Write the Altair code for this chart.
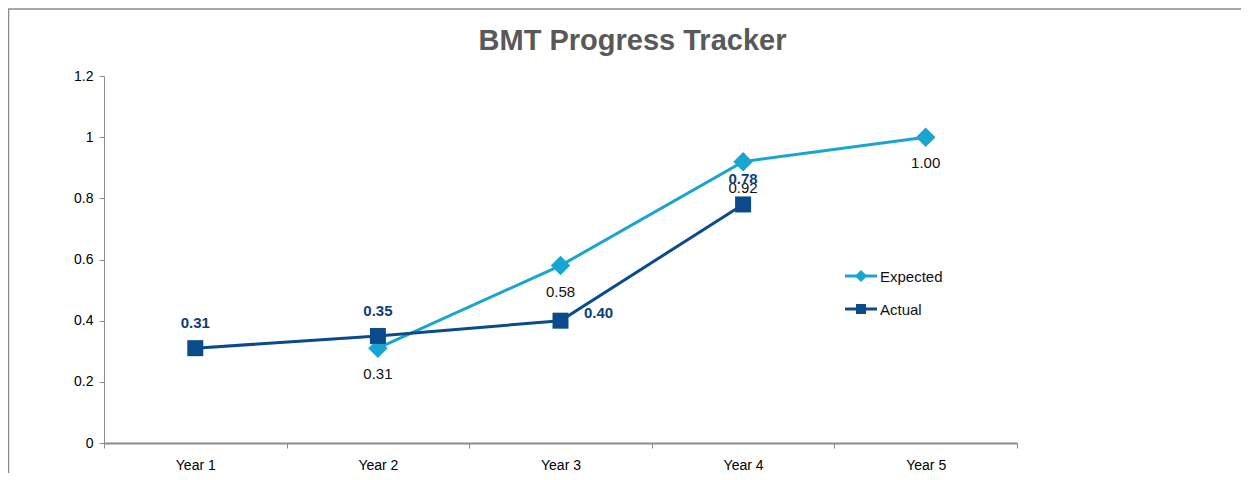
import altair as alt
import pandas as pd

years = ["Year 1", "Year 2", "Year 3", "Year 4", "Year 5"]
expected = [None, 0.31, 0.58, 0.92, 1.00]
actual = [0.31, 0.35, 0.40, 0.78, None]
series_names = ["Expected", "Actual"]
series_colors = ["#1AA5D1", "#0B4A8B"]
y_ticks = [0, 0.2, 0.4, 0.6, 0.8, 1.0, 1.2]

rows = []
for yr, e, a in zip(years, expected, actual):
    if e is not None:
        rows.append({"year": yr, "series": "Expected", "value": e})
    if a is not None:
        rows.append({"year": yr, "series": "Actual", "value": a})
df = pd.DataFrame(rows)

FONT = "Liberation Sans"
W, H = 913, 367

x_enc = alt.X(
    "year:N",
    sort=years,
    scale=alt.Scale(type="band", domain=years, paddingInner=0, paddingOuter=0),
    bandPosition=0.5,
    axis=alt.Axis(
        title=None, tickBand="extent", labelAngle=0, labelFontSize=14,
        labelColor="#000000", labelFont=FONT, tickSize=5, labelPadding=10,
        domainColor="#8C8C8C", tickColor="#8C8C8C", domainWidth=2, grid=False,
    ),
)
y_enc = alt.Y(
    "value:Q",
    scale=alt.Scale(domain=[0, 1.2], nice=False),
    axis=alt.Axis(
        title=None, values=y_ticks, format="~g", labelFontSize=14,
        labelColor="#000000", labelFont=FONT, tickSize=5, labelPadding=6,
        domainColor="#8C8C8C", tickColor="#8C8C8C", grid=False,
    ),
)

base = alt.Chart(df)
exp = base.transform_filter(alt.datum.series == "Expected")
act = base.transform_filter(alt.datum.series == "Actual")

exp_line = exp.mark_line(color=series_colors[0], strokeWidth=3).encode(x=x_enc, y=y_enc)
exp_pts = exp.mark_point(shape="diamond", filled=True, size=380, opacity=1,
                         color=series_colors[0]).encode(x=x_enc, y=y_enc)
act_line = act.mark_line(color=series_colors[1], strokeWidth=3).encode(x=x_enc, y=y_enc)
act_pts = act.mark_point(shape="square", filled=True, size=256, opacity=1,
                         color=series_colors[1]).encode(x=x_enc, y=y_enc)

exp_lbl = exp.mark_text(dy=26, fontSize=15, font=FONT, color="#111111").encode(
    x=x_enc, y=y_enc, text=alt.Text("value:Q", format=".2f"))
act_lbl = act.transform_filter(alt.datum.year != "Year 3").mark_text(
    dy=-25, fontSize=15, font=FONT, fontWeight="bold", color="#0B3F7C").encode(
    x=x_enc, y=y_enc, text=alt.Text("value:Q", format=".2f"))
act_lbl3 = act.transform_filter(alt.datum.year == "Year 3").mark_text(
    dx=38, dy=-8, fontSize=15, font=FONT, fontWeight="bold", color="#0B3F7C").encode(
    x=x_enc, y=y_enc, text=alt.Text("value:Q", format=".2f"))

# manual legend
one = alt.Chart(pd.DataFrame({"k": [0]}))
legend_layers = []
leg_y = [200, 233]
leg_shapes = ["diamond", "square"]
leg_sizes = [150, 100]
for name, col, yy, shp, sz in zip(series_names, series_colors, leg_y, leg_shapes, leg_sizes):
    legend_layers.append(one.mark_rule(color=col, strokeWidth=3).encode(
        x=alt.value(741), x2=alt.value(773), y=alt.value(yy)))
    legend_layers.append(one.mark_point(shape=shp, filled=True, size=sz, opacity=1, color=col).encode(
        x=alt.value(757), y=alt.value(yy)))
    legend_layers.append(one.mark_text(align="left", baseline="middle", fontSize=15, font=FONT,
                                       color="#111111", text=name).encode(
        x=alt.value(776), y=alt.value(yy + 1)))

frame = one.mark_rect(fill=None, stroke="#8C8C8C", strokeWidth=1.5).encode(
    x=alt.value(-95.5), y=alt.value(-67), x2=alt.value(W + 250), y2=alt.value(H + 60))

chart = alt.layer(
    frame, exp_line, act_line, exp_pts, act_pts, exp_lbl, act_lbl, act_lbl3, *legend_layers
).properties(
    width=W, height=H,
    title=alt.TitleParams("BMT Progress Tracker", fontSize=29, font=FONT, fontWeight="bold",
                          color="#595959", anchor="middle", dx=72, offset=-71,
                          baseline="alphabetic"),
    padding={"left": 96, "top": 68, "right": 224, "bottom": 30},
    autosize=alt.AutoSizeParams(type="none"),
).configure_view(stroke=None)

chart.save("out.html", embed_options={"renderer": "svg", "actions": False})
